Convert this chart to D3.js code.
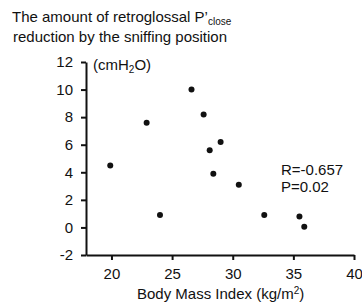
<!DOCTYPE html>
<html>
<head>
<meta charset="utf-8">
<script src="https://cdn.jsdelivr.net/npm/d3@7"></script>
<style>
  html, body { margin: 0; padding: 0; background: #fff; }
  svg { display: block; font-family: "Liberation Sans", Arial, sans-serif; }
</style>
</head>
<body>
<script>
// BMI (kg/m2) vs retroglossal Pclose reduction (cmH2O)
const bmi =       [19.9, 22.9, 26.6, 27.6, 29.0, 28.1, 28.4, 24.0, 30.5, 32.6, 35.5, 35.9];
const reduction = [4.5,  7.6,  10.0, 8.2,  6.2,  5.6,  3.9,  0.9,  3.1,  0.9,  0.8,  0.05];
const xTicks = [20, 25, 30, 35, 40];
const yTicks = [-2, 0, 2, 4, 6, 8, 10, 12];

const W = 362, H = 306;
const svg = d3.select("body").append("svg").attr("width", W).attr("height", H);

const x = d3.scaleLinear().domain([17.9, 40]).range([86, 354]);
const y = d3.scaleLinear().domain([-2, 12]).range([255, 62]);

const ink = "#111";
const fs = 15;

// Y axis
svg.append("g")
  .attr("transform", `translate(${x.range()[0]},0)`)
  .call(d3.axisLeft(y).tickValues(yTicks).tickFormat(d => String(d))
    .tickSize(5).tickSizeOuter(0).tickPadding(8))
  .call(ax => ax.select(".domain").attr("stroke", ink).attr("stroke-width", 2))
  .call(ax => ax.selectAll(".tick line").attr("stroke", ink).attr("stroke-width", 2))
  .call(ax => ax.selectAll("text").attr("font-size", fs).attr("fill", ink)
    .attr("font-family", "Liberation Sans, Arial, sans-serif"));

// X axis
svg.append("g")
  .attr("transform", `translate(0,${y.range()[0]})`)
  .call(d3.axisBottom(x).tickValues(xTicks).tickSize(5).tickSizeOuter(0).tickPadding(8))
  .call(ax => ax.select(".domain").attr("stroke", ink).attr("stroke-width", 2))
  .call(ax => ax.selectAll(".tick line").attr("stroke", ink).attr("stroke-width", 2))
  .call(ax => ax.selectAll("text").attr("font-size", fs).attr("fill", ink)
    .attr("font-family", "Liberation Sans, Arial, sans-serif"));

// Points
const pts = bmi.map((b, i) => ({ b, r: reduction[i] }));
svg.append("g").selectAll("circle")
  .data(pts)
  .join("circle")
    .attr("cx", d => x(d.b))
    .attr("cy", d => y(d.r))
    .attr("r", 3)
    .attr("fill", ink);

// Title
const title = svg.append("text").attr("font-size", fs).attr("fill", ink);
title.append("tspan").attr("x", 12).attr("y", 22).text("The amount of retroglossal P\u2019");
title.append("tspan").attr("font-size", 10).attr("dy", 3).text("close");
svg.append("text").attr("x", 13).attr("y", 42).attr("font-size", fs).attr("fill", ink)
  .text("reduction by the sniffing position");

// Unit label
const unit = svg.append("text").attr("x", 93).attr("y", 70).attr("font-size", fs).attr("fill", ink);
unit.append("tspan").text("(cmH");
unit.append("tspan").attr("font-size", 10).attr("dy", 3).text("2");
unit.append("tspan").attr("dy", -3).text("O)");

// Stats
svg.append("text").attr("x", 281).attr("y", 175).attr("font-size", fs).attr("fill", ink).text("R=-0.657");
svg.append("text").attr("x", 281).attr("y", 192).attr("font-size", fs).attr("fill", ink).text("P=0.02");

// X axis label
const xl = svg.append("text").attr("x", x(29)).attr("y", 299).attr("text-anchor", "middle")
  .attr("font-size", fs).attr("fill", ink);
xl.append("tspan").text("Body Mass Index (kg/m");
xl.append("tspan").attr("font-size", 10).attr("dy", -5).text("2");
xl.append("tspan").attr("dy", 5).text(")");
</script>
</body>
</html>
